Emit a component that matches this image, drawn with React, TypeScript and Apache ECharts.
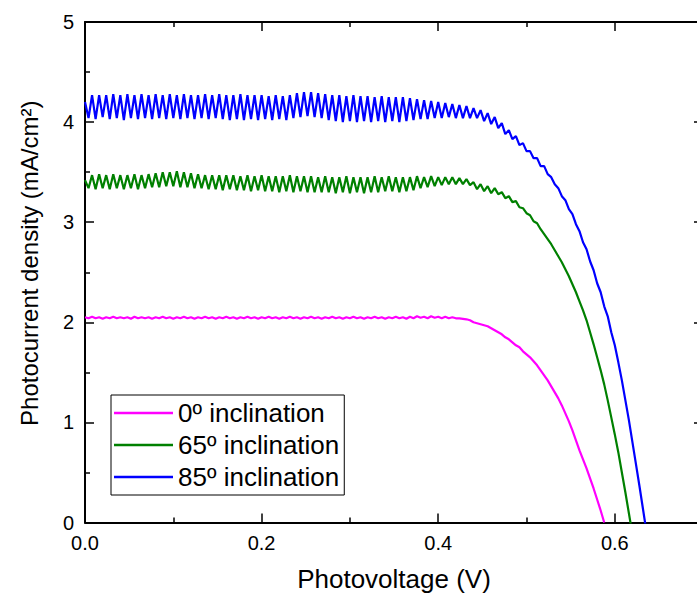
import React, { useEffect, useRef } from "react";
import * as echarts from "echarts";

// Photovoltage sampling step (V) shared by all curves
const V_STEP = 0.004;

const seriesNames = ["0º inclination", "65º inclination", "85º inclination"];
const seriesColors = ["#FF00FF", "#008000", "#0000FF"];

const xAxisTitle = "Photovoltage (V)";
const yAxisTitle = "Photocurrent density (mA/cm²)";

// 0º inclination (magenta), photocurrent density in mA/cm², one value per V_STEP
const magentaCurrent = [
  2.05, 2.04, 2.055, 2.04, 2.05, 2.035, 2.05, 2.04, 2.055, 2.04,
  2.05, 2.04, 2.05, 2.035, 2.055, 2.04, 2.05, 2.04, 2.05, 2.035,
  2.05, 2.04, 2.055, 2.04, 2.05, 2.035, 2.05, 2.04, 2.055, 2.04,
  2.05, 2.035, 2.05, 2.04, 2.055, 2.04, 2.05, 2.035, 2.05, 2.04,
  2.055, 2.04, 2.05, 2.035, 2.05, 2.04, 2.055, 2.04, 2.05, 2.035,
  2.05, 2.04, 2.055, 2.04, 2.05, 2.035, 2.05, 2.04, 2.055, 2.04,
  2.05, 2.035, 2.05, 2.04, 2.055, 2.04, 2.05, 2.035, 2.05, 2.04,
  2.055, 2.04, 2.05, 2.035, 2.05, 2.04, 2.055, 2.04, 2.05, 2.035,
  2.05, 2.04, 2.055, 2.04, 2.05, 2.035, 2.05, 2.04, 2.055, 2.04,
  2.05, 2.035, 2.055, 2.04, 2.06, 2.045, 2.055, 2.04, 2.06, 2.045,
  2.055, 2.04, 2.055, 2.04, 2.05, 2.04,
  2.04, 2.035, 2.03, 2.02, 2.0, 1.99, 1.98, 1.97, 1.96, 1.94,
  1.92, 1.9, 1.88, 1.85, 1.83, 1.8, 1.77, 1.75, 1.71, 1.68,
  1.65, 1.61, 1.57, 1.52, 1.47, 1.42, 1.36, 1.3, 1.24, 1.17,
  1.09, 1.01, 0.92, 0.82, 0.72, 0.63, 0.54, 0.44, 0.34, 0.23,
  0.12, 0.0,
];

// 65º inclination (green)
const greenCurrent = [
  3.42, 3.34, 3.47, 3.33, 3.48, 3.34, 3.47, 3.33, 3.48, 3.34,
  3.47, 3.33, 3.47, 3.34, 3.48, 3.33, 3.47, 3.34, 3.48, 3.35,
  3.49, 3.35, 3.5, 3.36, 3.5, 3.36, 3.51, 3.35, 3.5, 3.35,
  3.49, 3.34, 3.48, 3.34, 3.47, 3.33, 3.47, 3.33, 3.47, 3.32,
  3.47, 3.33, 3.47, 3.32, 3.46, 3.32, 3.47, 3.31, 3.46, 3.32,
  3.47, 3.31, 3.46, 3.31, 3.46, 3.3, 3.46, 3.31, 3.47, 3.3,
  3.46, 3.31, 3.46, 3.3, 3.46, 3.3, 3.45, 3.3, 3.46, 3.3,
  3.45, 3.29, 3.45, 3.3, 3.46, 3.29, 3.45, 3.3, 3.45, 3.29,
  3.45, 3.3, 3.46, 3.3, 3.45, 3.31, 3.46, 3.31, 3.45, 3.3,
  3.45, 3.31, 3.45, 3.32, 3.46, 3.34, 3.45, 3.35, 3.46, 3.36,
  3.45, 3.37, 3.45, 3.38, 3.45, 3.38, 3.44, 3.38, 3.43, 3.37,
  3.4, 3.33, 3.38, 3.31, 3.36, 3.29, 3.34, 3.28, 3.3, 3.24,
  3.26, 3.2, 3.21, 3.15, 3.14, 3.09, 3.07, 3.01, 2.99, 2.93,
  2.88, 2.83, 2.78, 2.72, 2.66, 2.6, 2.53, 2.46, 2.38, 2.3,
  2.21, 2.12, 2.02, 1.9, 1.78, 1.65, 1.52, 1.38, 1.22, 1.05,
  0.88, 0.7, 0.5, 0.3, 0.09, -0.12,
];

// 85º inclination (blue)
const blueCurrent = [
  4.2, 4.04, 4.27, 4.03, 4.27, 4.05, 4.27, 4.03, 4.28, 4.04,
  4.27, 4.02, 4.28, 4.04, 4.27, 4.03, 4.28, 4.04, 4.27, 4.03,
  4.28, 4.04, 4.27, 4.03, 4.28, 4.04, 4.27, 4.03, 4.28, 4.04,
  4.27, 4.03, 4.27, 4.04, 4.28, 4.03, 4.27, 4.04, 4.28, 4.03,
  4.27, 4.02, 4.27, 4.03, 4.28, 4.02, 4.27, 4.03, 4.27, 4.02,
  4.27, 4.03, 4.26, 4.02, 4.27, 4.03, 4.26, 4.02, 4.27, 4.04,
  4.29, 4.05, 4.3, 4.06, 4.3, 4.05, 4.29, 4.04, 4.28, 4.02,
  4.27, 4.01, 4.27, 4.0, 4.26, 4.01, 4.27, 4.0, 4.26, 4.01,
  4.26, 4.0, 4.25, 4.01, 4.26, 4.0, 4.25, 4.01, 4.25, 4.0,
  4.25, 4.01, 4.24, 4.02, 4.23, 4.03, 4.22, 4.03, 4.21, 4.04,
  4.2, 4.04, 4.19, 4.05, 4.18, 4.04, 4.17, 4.04, 4.16, 4.04,
  4.14, 4.04, 4.12, 4.01, 4.09, 3.98, 4.05, 3.94, 3.99, 3.88,
  3.92, 3.83, 3.86, 3.77, 3.79, 3.71, 3.71, 3.64, 3.64, 3.56,
  3.56, 3.48, 3.45, 3.38, 3.34, 3.26, 3.22, 3.13, 3.08, 2.98,
  2.91, 2.8, 2.73, 2.61, 2.52, 2.39, 2.3, 2.16, 2.06, 1.9,
  1.77, 1.6, 1.42, 1.22, 1.02, 0.8, 0.58, 0.36, 0.13, -0.1,
];

const xMin = 0;
const xMaxFrame = 0.8; // axis extent of the outer frame (cropped by the picture)
const xMaxVisible = 0.7; // where the right frame line sits
const xInterval = 0.2;
const yMin = 0;
const yMax = 5;
const yInterval = 1;

const FONT = "'Liberation Sans', Arial, Helvetica, sans-serif";

const toPoints = (arr: number[]) =>
  arr.map((c, i) => [Math.round(i * V_STEP * 10000) / 10000, c]);

export default function App() {
  const ref = useRef<HTMLDivElement>(null);

  useEffect(() => {
    if (!ref.current) return;
    const chart = echarts.init(ref.current, undefined, { renderer: "svg" });

    const tickLine = { color: "#000", width: 1.5 };
    const axisLine = { show: true, onZero: false, lineStyle: { color: "#000", width: 2 } };

    const option: any = {
      animation: false,
      backgroundColor: "#ffffff",
      textStyle: { fontFamily: FONT },
      grid: [
        { left: 85, top: 22, width: 706.4, height: 500.5, containLabel: false, outerBoundsMode: "none" },
        { left: 85, top: 22, width: 618, height: 500.5, containLabel: false, outerBoundsMode: "none" },
      ],
      xAxis: [
        {
          type: "value",
          gridIndex: 0,
          position: "bottom",
          min: xMin,
          max: xMaxFrame,
          interval: xInterval,
          axisLine,
          axisTick: { show: true, inside: true, length: 9, lineStyle: tickLine },
          minorTick: { show: true, splitNumber: 2, length: 5, lineStyle: tickLine },
          splitLine: { show: false },
          axisLabel: {
            fontSize: 20,
            color: "#000",
            fontFamily: FONT,
            margin: 10,
            showMaxLabel: false,
            formatter: (v: number) => v.toFixed(1),
          },
        },
        {
          type: "value",
          gridIndex: 0,
          position: "top",
          min: xMin,
          max: xMaxFrame,
          interval: xInterval,
          axisLine,
          axisTick: { show: true, inside: true, length: 9, lineStyle: tickLine },
          minorTick: { show: true, splitNumber: 2, length: 5, lineStyle: tickLine },
          splitLine: { show: false },
          axisLabel: { show: false },
        },
        {
          type: "value",
          gridIndex: 1,
          position: "bottom",
          min: xMin,
          max: xMaxVisible,
          name: xAxisTitle,
          nameLocation: "middle",
          nameGap: 43,
          nameTextStyle: { fontSize: 26, color: "#000", fontFamily: FONT },
          axisLine: { show: false },
          axisTick: { show: false },
          axisLabel: { show: false },
          splitLine: { show: false },
        },
      ],
      yAxis: [
        {
          type: "value",
          gridIndex: 0,
          position: "left",
          min: yMin,
          max: yMax,
          interval: yInterval,
          name: yAxisTitle,
          nameLocation: "middle",
          nameGap: 44,
          nameTextStyle: {
            fontSize: 24,
            color: "#000",
            fontFamily: FONT,
            padding: [0, 0, 0, 18],
          },
          axisLine,
          axisTick: { show: true, inside: true, length: 9, lineStyle: tickLine },
          minorTick: { show: true, splitNumber: 2, length: 5, lineStyle: tickLine },
          splitLine: { show: false },
          axisLabel: {
            fontSize: 20,
            color: "#000",
            fontFamily: FONT,
            margin: 11,
            formatter: (v: number) => String(Math.round(v)),
          },
        },
        {
          type: "value",
          gridIndex: 1,
          position: "right",
          min: yMin,
          max: yMax,
          interval: yInterval,
          axisLine,
          axisTick: { show: true, inside: true, length: 9, lineStyle: tickLine },
          minorTick: { show: true, splitNumber: 2, length: 5, lineStyle: tickLine },
          splitLine: { show: false },
          axisLabel: { show: false },
        },
      ],
      legend: {
        show: true,
        orient: "vertical",
        left: 111,
        top: 395,
        padding: [5, 5, 5, 3],
        itemGap: 6,
        itemWidth: 59,
        itemHeight: 2.5,
        icon: "rect",
        borderColor: "#000",
        borderWidth: 1,
        borderRadius: 0,
        backgroundColor: "#fff",
        textStyle: { fontSize: 26, color: "#000", fontFamily: FONT },
        data: seriesNames,
      },
      series: [magentaCurrent, greenCurrent, blueCurrent].map((arr, k) => ({
        type: "line",
        name: seriesNames[k],
        xAxisIndex: 0,
        yAxisIndex: 0,
        data: toPoints(arr),
        symbol: "none",
        showSymbol: false,
        clip: true,
        color: seriesColors[k],
        itemStyle: { color: seriesColors[k] },
        lineStyle: { color: seriesColors[k], width: 2.2 },
      })),
    };

    chart.setOption(option);
    return () => chart.dispose();
  }, []);

  return (
    <div
      ref={ref}
      style={{ position: "absolute", left: 0, top: 0, width: 697, height: 594 }}
    />
  );
}
